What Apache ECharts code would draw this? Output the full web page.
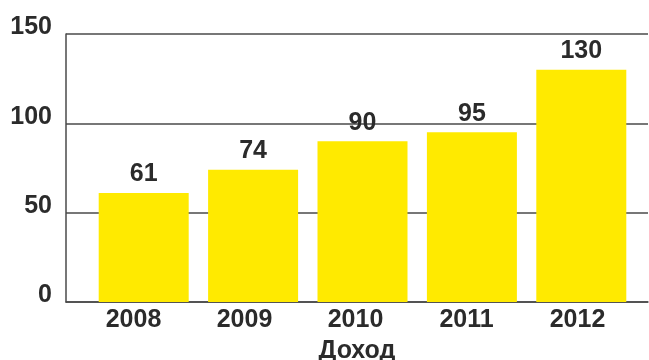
<!DOCTYPE html>
<html><head><meta charset="utf-8">
<script src="https://cdn.jsdelivr.net/npm/echarts@6/dist/echarts.min.js"></script>
<style>html,body{margin:0;padding:0;background:#fff}#c{width:649px;height:360px}</style>
</head><body><div id="c"></div>
<script>
const categories = ['2008', '2009', '2010', '2011', '2012'];
const values = [61, 74, 90, 95, 130];
const axisTitle = 'Доход';
const yTicks = { min: 0, max: 150, interval: 50 };

const font = '"Liberation Sans", Arial, sans-serif';
const txt = '#2b2b2b';
const lineCol = '#4a4a4a';
const fs = 25;
const chart = echarts.init(document.getElementById('c'));
chart.setOption({
  animation: false,
  grid: [
    { left: 66, right: 1, top: 34, bottom: 58, containLabel: false, outerBoundsMode: 'none' },
    { left: 89, right: 13, top: 34, bottom: 58, containLabel: false, outerBoundsMode: 'none' },
    { left: 78, right: 16, top: 34, bottom: 58, containLabel: false, outerBoundsMode: 'none' }
  ],
  xAxis: [
    { gridIndex: 0, type: 'category', data: [''], axisTick: { show: false }, axisLabel: { show: false },
      axisLine: { show: true, lineStyle: { color: lineCol, width: 1.5 } },
      name: axisTitle, nameLocation: 'middle', nameGap: 37,
      nameTextStyle: { fontFamily: font, fontWeight: 'bold', fontSize: fs, color: txt } },
    { gridIndex: 1, type: 'category', data: categories, axisTick: { show: false },
      axisLine: { show: false }, axisLabel: { show: false } },
    { gridIndex: 2, type: 'category', data: categories, axisTick: { show: false },
      axisLine: { show: false },
      axisLabel: { margin: 6, fontFamily: font, fontWeight: 'bold', fontSize: fs, color: txt } }
  ],
  yAxis: [
    { gridIndex: 0, type: 'value', min: yTicks.min, max: yTicks.max, interval: yTicks.interval,
      axisLine: { show: true, lineStyle: { color: lineCol, width: 1.5 } }, axisTick: { show: false },
      splitLine: { show: true, lineStyle: { color: lineCol, width: 1.5 } },
      axisLabel: { margin: 14, verticalAlign: 'bottom', lineHeight: 13, fontFamily: font, fontWeight: 'bold', fontSize: fs, color: txt } },
    { gridIndex: 1, type: 'value', min: yTicks.min, max: yTicks.max, interval: yTicks.interval, show: false },
    { gridIndex: 2, type: 'value', min: yTicks.min, max: yTicks.max, interval: yTicks.interval, show: false }
  ],
  series: [{
    type: 'bar', xAxisIndex: 1, yAxisIndex: 1, data: values, barWidth: 90,
    itemStyle: { color: '#FFEA00' },
    label: { show: true, position: 'top', distance: 6, fontFamily: font, fontWeight: 'bold', fontSize: fs, color: txt }
  }]
});
</script></body></html>
